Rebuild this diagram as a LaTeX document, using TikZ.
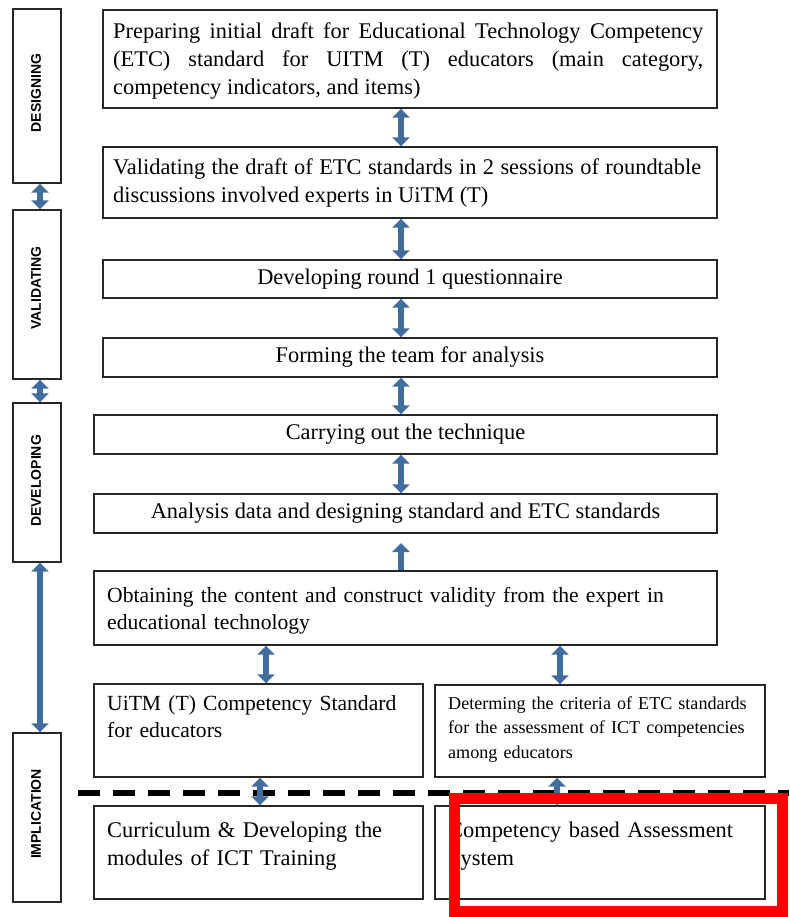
\documentclass[tikz,border=0pt]{standalone}
\usepackage{fontspec}
\setmainfont{Liberation Serif}
\setsansfont{Liberation Sans}
\usetikzlibrary{arrows.meta,calc}
\definecolor{arr}{RGB}{65,108,158}
\definecolor{hlred}{RGB}{255,0,0}
\hyphenpenalty=10000
\exhyphenpenalty=10000
\begin{document}
\begin{tikzpicture}[x=1pt,y=-1pt,
 box/.style={draw=black!85,line width=1.4pt,inner sep=0pt},
 lab/.style={font=\sffamily\bfseries\fontsize{14}{16}\selectfont,rotate=90,inner sep=0pt},
 big/.style={font=\fontsize{22.4}{28}\selectfont},
 txt/.style={anchor=base west,inner sep=0pt,font=\fontsize{22.4}{28}\selectfont},
 txtc/.style={anchor=base west,inner sep=0pt,font=\fontsize{21.6}{27.5}\selectfont},
 small/.style={anchor=base west,inner sep=0pt,font=\fontsize{18.1}{24.5}\selectfont},
 dbl/.style={draw=arr,line width=6pt,{Triangle[width=17pt,length=9pt]}-{Triangle[width=17pt,length=9pt]}},
 sgl/.style={draw=arr,line width=6pt,-{Triangle[width=17pt,length=9pt]}},
 dashline/.style={draw=black,line width=5.5pt,dash pattern=on 22pt off 13pt},
]
\useasboundingbox (0,0) rectangle (789,917);
\fill[white] (0,0) rectangle (789,917);

% left phase boxes
\node[box,minimum width=48pt,minimum height=174pt] (ld) at (37,96) {};
\node[box,minimum width=48pt,minimum height=169pt] (lv) at (37,294.5) {};
\node[box,minimum width=48pt,minimum height=159pt] (ldev) at (37,482.5) {};
\node[box,minimum width=48pt,minimum height=169pt] (limp) at (37,817.5) {};
\node[lab] (tld) at (36,93) {DESIGNING};
\node[lab] (tlv) at (36,288) {VALIDATING};
\node[lab] (tldev) at (36,481) {DEVELOPING};
\node[lab] (tlimp) at (36,814) {IMPLICATION};

% dashed separator
\coordinate (dl) at (78,793);
\coordinate (dr) at (789,793);
\draw[dashline] (dl) -- (dr);

% main boxes
\node[box,minimum width=614pt,minimum height=98pt] (b1) at (410,59) {};
\node[box,minimum width=614pt,minimum height=71pt] (b2) at (410,182.5) {};
\node[box,minimum width=614pt,minimum height=38pt,big] (b3) at (410,279) {Developing round 1 questionnaire};
\node[box,minimum width=614pt,minimum height=39pt,big] (b4) at (410,357.5) {Forming the team for analysis};
\node[box,minimum width=623pt,minimum height=39pt,big] (b5) at (405.5,434.5) {Carrying out the technique};
\node[box,minimum width=623pt,minimum height=39pt,big] (b6) at (405.5,513.5) {Analysis data and designing standard and ETC standards};
\node[box,minimum width=623pt,minimum height=74pt] (b7) at (405.5,608) {};
\node[box,minimum width=329pt,minimum height=93pt] (b8) at (258.5,730.5) {};
\node[box,minimum width=330pt,minimum height=92pt] (b9) at (600,731) {};
\node[box,minimum width=329pt,minimum height=93pt] (b10) at (258.5,852.5) {};
\node[box,minimum width=330pt,minimum height=93pt] (b11) at (600,852.5) {};

% texts
\node[txt,text width=590pt,align=justify] (t1) at (113,39) {Preparing initial draft for Educational Technology Competency\linebreak (ETC) standard for UITM (T) educators (main category,\linebreak competency indicators, and items)};
\node[txt,text width=588pt,align=justify] (t2) at (113,175) {Validating the draft of ETC standards in 2 sessions of roundtable\linebreak discussions involved experts in UiTM (T)};
\node[txtc,text width=600pt,align=left] (t7) at (107,602) {Obtaining the content and construct validity from the expert in\\ educational technology};
\node[txtc,text width=310pt,align=left] (t8) at (107,710) {UiTM (T) Competency Standard\\ for educators};
\node[small,text width=315pt,align=left] (t9) at (448,709) {Determing the criteria of ETC standards\\ for the assessment of ICT competencies\\ among educators};
\node[txt,text width=310pt,align=left] (t10) at (107,837) {Curriculum \& Developing the\\ modules of ICT Training};
\node[txt,text width=310pt,align=left] (t11) at (448,837) {Competency based Assessment\\ System};

% arrow x positions
\coordinate (xl) at (40,0);
\coordinate (xm) at (401,0);
\coordinate (xa) at (266,0);
\coordinate (xb) at (560,0);
\coordinate (xc) at (260,0);
\coordinate (xd) at (557,0);
\coordinate (a7) at (401,543);

% left arrows
\draw[dbl] (ld.south -| xl) -- (lv.north -| xl);
\draw[dbl] (lv.south -| xl) -- (ldev.north -| xl);
\draw[dbl] (ldev.south -| xl) -- (limp.north -| xl);

% main arrows
\draw[dbl] (b1.south -| xm) -- (b2.north -| xm);
\draw[dbl] (b2.south -| xm) -- (b3.north -| xm);
\draw[dbl] (b3.south -| xm) -- (b4.north -| xm);
\draw[dbl] (b4.south -| xm) -- (b5.north -| xm);
\draw[dbl] (b5.south -| xm) -- (b6.north -| xm);
\draw[sgl] (b7.north -| xm) -- (a7);
\draw[dbl] (b7.south -| xa) -- (b8.north -| xa);
\draw[dbl] (b7.south -| xb) -- (b9.north -| xb);
\draw[dbl] (b8.south -| xc) -- (b10.north -| xc);
\draw[dbl] (b9.south -| xd) -- (b11.north -| xd);

% highlight
\node[draw=hlred,line width=11pt,minimum width=328pt,minimum height=113pt,inner sep=0pt] (hl) at (618,854.5) {};
\end{tikzpicture}
\end{document}
